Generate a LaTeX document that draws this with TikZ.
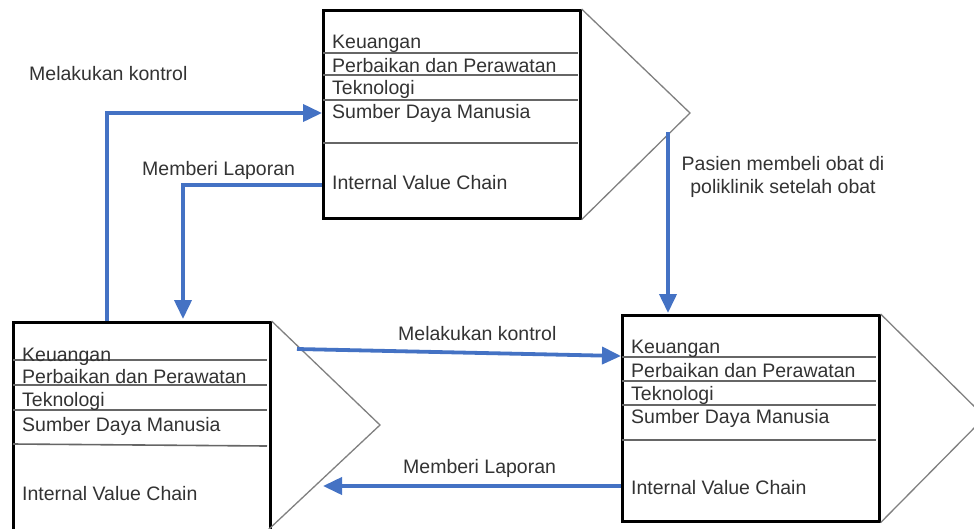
\documentclass[tikz,border=0pt]{standalone}
\usepackage{fontspec}
\setmainfont{Liberation Sans}
\usetikzlibrary{arrows.meta,calc}
\definecolor{flowblue}{HTML}{4472C4}
\definecolor{txtgray}{HTML}{333333}
\tikzset{
  vbox/.style={draw=black,line width=2.6pt,minimum width=257pt,inner sep=0pt,anchor=north west},
  rowline/.style={draw=black!60,line width=1.6pt},
  chev/.style={draw=black!50,line width=1.3pt},
  lbl/.style={font=\fontsize{19.5}{23}\selectfont,text=txtgray,inner sep=0pt,anchor=base west},
  flow/.style={draw=flowblue,line width=3.8pt,-{Triangle[length=19pt,width=17pt]}},
}
\begin{document}
\begin{tikzpicture}[x=1pt,y=-1pt]
\useasboundingbox (0,0) rectangle (974,528);
\clip (0,0) rectangle (974,528);
\fill[white] (0,0) rectangle (974,528);

% ---------- top value chain ----------
\node[vbox,minimum height=208pt] (T) at (322,9) {};
\draw[chev] (T.north east) -- (690,113) coordinate (Ttip) -- (T.south east);
\foreach \yy in {53,75,100,143}{\draw[rowline] (323,\yy) -- (578,\yy);}
\node[lbl] (t1) at (332,48) {Keuangan};
\node[lbl] (t2) at (332,72) {Perbaikan dan Perawatan};
\node[lbl] (t3) at (332,94) {Teknologi};
\node[lbl] (t4) at (332,118) {Sumber Daya Manusia};
\node[lbl] (t5) at (332,189) {Internal Value Chain};

% ---------- bottom-left value chain ----------
\node[vbox,minimum height=220pt] (L) at (12,321) {};
\draw[chev] (L.north east) -- (380,425) coordinate (Ltip) -- (268,530);
\draw[rowline] (13,360) -- (267,360);
\draw[rowline] (13,385) -- (267,385);
\draw[rowline] (13,410) -- (267,410);
\draw[rowline] (13,444) -- (267,446);
\node[lbl] (l1) at (22,361) {Keuangan};
\node[lbl] (l2) at (22,383) {Perbaikan dan Perawatan};
\node[lbl] (l3) at (22,406) {Teknologi};
\node[lbl] (l4) at (22,431) {Sumber Daya Manusia};
\node[lbl] (l5) at (22,500) {Internal Value Chain};

% ---------- bottom-right value chain ----------
\node[vbox,minimum height=206pt] (R) at (621,314) {};
\draw[chev] (R.north east) -- (985,417) coordinate (Rtip) -- (R.south east);
\foreach \yy in {357,381,405,440}{\draw[rowline] (622,\yy) -- (876,\yy);}
\node[lbl] (r1) at (631,353) {Keuangan};
\node[lbl] (r2) at (631,377) {Perbaikan dan Perawatan};
\node[lbl] (r3) at (631,400) {Teknologi};
\node[lbl] (r4) at (631,423) {Sumber Daya Manusia};
\node[lbl] (r5) at (631,494) {Internal Value Chain};

% ---------- connectors ----------
\coordinate (a1s) at (107,321);
\coordinate (a1e) at ($(T.north west)+(0,104)$);
\draw[flow] (a1s) |- (a1e);
\node[lbl] (m1) at (29,80) {Melakukan kontrol};

\coordinate (a2s) at ($(T.north west)+(0,176)$);
\coordinate (a2e) at (183,319);
\draw[flow] (a2s) -| (a2e);
\node[lbl] (m2) at (142,175) {Memberi Laporan};

\coordinate (a3s) at (668,132);
\coordinate (a3e) at (668,313);
\draw[flow] (a3s) -- (a3e);
\node[font=\fontsize{19.5}{23}\selectfont,text=txtgray,align=center,inner sep=0pt,anchor=base] (m3) at (783,193) {Pasien membeli obat di\\poliklinik setelah obat};

\coordinate (a4s) at (297,349);
\coordinate (a4e) at ($(R.north west)+(0,42)$);
\draw[flow] (a4s) -- (a4e);
\node[lbl] (m4) at (398,340) {Melakukan kontrol};

\coordinate (a5s) at ($(R.north west)+(0,172)$);
\coordinate (a5e) at (323,486);
\draw[flow] (a5s) -- (a5e);
\node[lbl] (m5) at (403,473) {Memberi Laporan};
\end{tikzpicture}
\end{document}
